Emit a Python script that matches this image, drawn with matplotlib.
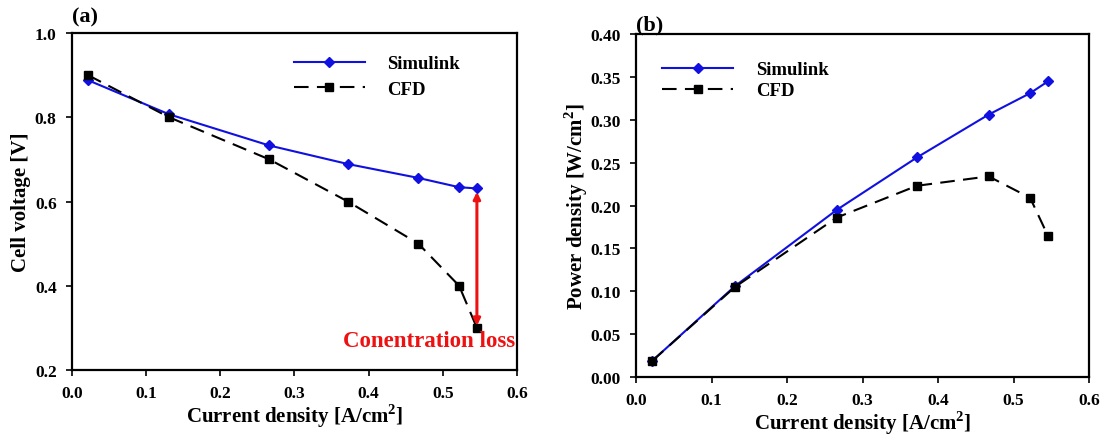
import numpy as np
import matplotlib
matplotlib.use('Agg')
import matplotlib.pyplot as plt

plt.rcParams['font.family'] = ['Liberation Serif', 'DejaVu Serif']
plt.rcParams['font.weight'] = 'bold'
plt.rcParams['mathtext.fontset'] = 'custom'
plt.rcParams['mathtext.rm'] = 'Liberation Serif:bold'
plt.rcParams['mathtext.bf'] = 'Liberation Serif:bold'

# current density [A/cm2]
current = [0.0216, 0.131, 0.266, 0.372, 0.467, 0.522, 0.546]

# (a) cell voltage [V]
volt_sim = [0.888, 0.807, 0.733, 0.689, 0.656, 0.634, 0.631]
volt_cfd = [0.900, 0.800, 0.700, 0.600, 0.500, 0.400, 0.300]

# (b) power density [W/cm2]
pow_sim = [0.019, 0.106, 0.195, 0.256, 0.306, 0.331, 0.345]
pow_cfd = [0.019, 0.105, 0.186, 0.223, 0.234, 0.209, 0.164]

xticks = [0.0, 0.1, 0.2, 0.3, 0.4, 0.5, 0.6]
vticks = [0.2, 0.4, 0.6, 0.8, 1.0]
pticks = [0.00, 0.05, 0.10, 0.15, 0.20, 0.25, 0.30, 0.35, 0.40]

BLUE = '#1010e0'
fig = plt.figure(figsize=(11.11, 4.35), dpi=100)
ax1 = fig.add_axes([0.0648, 0.1471, 0.4005, 0.7747])
ax2 = fig.add_axes([0.5725, 0.131, 0.4077, 0.7885])


def style(ax, yt, fmt):
    ax.set_xlim(0, 0.6)
    ax.set_xticks(xticks)
    ax.set_xticklabels(['%.1f' % v for v in xticks])
    ax.set_ylim(yt[0], yt[-1])
    ax.set_yticks(yt)
    ax.set_yticklabels([fmt % v for v in yt])
    ax.tick_params(direction='out', length=4, width=1.2, labelsize=12.5, pad=7)
    for s in ax.spines.values():
        s.set_linewidth(1.6)
    for lab in ax.get_xticklabels() + ax.get_yticklabels():
        lab.set_fontweight('bold')
    ax.set_xlabel('Current density [A/cm$^{2}$]', fontsize=15,
                  fontweight='bold', labelpad=0)


ax1.plot(current, volt_sim, '-', color=BLUE, lw=1.5, marker='D', ms=5.5, label='Simulink')
ax1.plot(current, volt_cfd, '--', color='black', lw=1.5, dashes=(7, 4), marker='s',
         ms=6, label='CFD')
style(ax1, vticks, '%.1f')
ax1.set_ylabel('Cell voltage [V]', fontsize=15, fontweight='bold', labelpad=3)
ax1.annotate('', xy=(current[-1], 0.305), xytext=(current[-1], 0.623),
             arrowprops=dict(arrowstyle='<|-|>', color='#ee1111', lw=2.2,
                             mutation_scale=10, shrinkA=0, shrinkB=0))
ax1.text(0.597, 0.27, 'Conentration loss', color='#ee1111', fontsize=16.5,
         fontweight='bold', ha='right', va='center')
ax1.legend(loc='upper right', bbox_to_anchor=(0.91, 0.985), frameon=False,
           handlelength=3.8, fontsize=13.5, labelspacing=0.45, handletextpad=1.2)
ax1.text(0.0, 1.02, '(a)', transform=ax1.transAxes, fontsize=16, fontweight='bold',
         ha='left', va='bottom')

ax2.plot(current, pow_sim, '-', color=BLUE, lw=1.5, marker='D', ms=5.5, label='Simulink')
ax2.plot(current, pow_cfd, '--', color='black', lw=1.5, dashes=(7, 4), marker='s',
         ms=6, label='CFD')
style(ax2, pticks, '%.2f')
ax2.set_ylabel('Power density [W/cm$^{2}$]', fontsize=15, fontweight='bold',
               labelpad=0)
ax2.legend(loc='upper left', bbox_to_anchor=(0.02, 0.97), frameon=False,
           handlelength=3.8, fontsize=13.5, labelspacing=0.2, handletextpad=1.2)
ax2.text(0.0, 1.0, '(b)', transform=ax2.transAxes, fontsize=16, fontweight='bold',
         ha='left', va='bottom')

fig.savefig('out.png', dpi=100)
